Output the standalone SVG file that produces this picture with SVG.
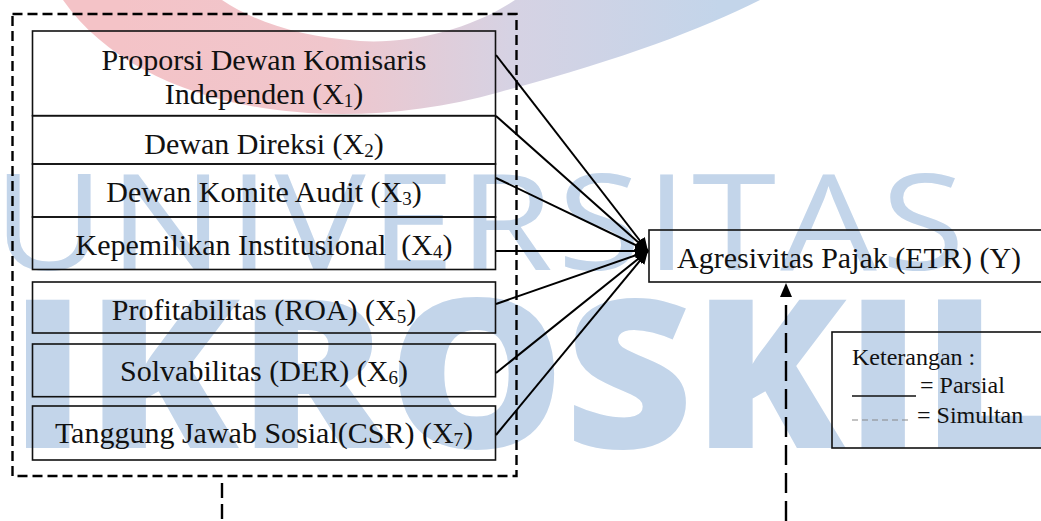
<svg xmlns="http://www.w3.org/2000/svg" width="1041" height="521" viewBox="0 0 1041 521">
<style>
.wm{fill:#c3d5ea;font-family:"Open Sans","DejaVu Sans",sans-serif}
.box{fill:none;stroke:#111;stroke-width:1.6}
.t{font-family:"Liberation Serif","Times New Roman",serif;font-size:30px;fill:#111;text-anchor:middle}
.lg{font-family:"Liberation Serif","Times New Roman",serif;font-size:24px;fill:#111}
.edge{stroke:#000;stroke-width:2;fill:none;marker-end:url(#ah)}
.dash{stroke:#000;stroke-width:2.4;fill:none}
</style>
<defs>
<linearGradient id="sw" gradientUnits="userSpaceOnUse" x1="120" y1="0" x2="720" y2="0">
<stop offset="0" stop-color="#f4c3c7"/>
<stop offset="0.35" stop-color="#f0c6cc"/>
<stop offset="0.65" stop-color="#d6d2e3"/>
<stop offset="1" stop-color="#c3d5ea"/>
</linearGradient>
<marker id="ah" markerUnits="userSpaceOnUse" markerWidth="14" markerHeight="12" refX="13" refY="6" orient="auto">
<path d="M0,0 L13,6 L0,12 Z" fill="#000"/>
</marker>
</defs>
<g id="watermark">
<path d="M63,0 C140,110 330,140 500,92 C620,60 700,30 760,0 L515,0 C470,30 410,44 360,41 C300,37 255,22 222,0 Z" fill="url(#sw)"/>
<text class="wm" transform="scale(1.15,1)" x="-6" y="270" font-size="133" textLength="845" lengthAdjust="spacing">UNIVERSITAS</text>
<text class="wm" transform="scale(1.08,1)" x="8" y="448" font-size="207" font-weight="800" textLength="965" lengthAdjust="spacing">IKROSKIL</text>
</g>
<g id="group-x">
<rect x="12.5" y="14" width="504" height="462" fill="none" stroke="#000" stroke-width="2.4" stroke-dasharray="10,5"/>
</g>
<g id="x1">
<rect class="box" x="32.5" y="31" width="463" height="84.7"/>
<text class="t" x="264" y="70">Proporsi Dewan Komisaris</text>
<text class="t" x="264" y="104">Independen (X<tspan font-size="19" dy="3">1</tspan><tspan dy="-3">)</tspan></text>
</g>
<g id="x2">
<rect class="box" x="32.5" y="115.7" width="463" height="48.3"/>
<text class="t" x="264" y="154">Dewan Direksi (X<tspan font-size="19" dy="3">2</tspan><tspan dy="-3">)</tspan></text>
</g>
<g id="x3">
<rect class="box" x="32.5" y="164" width="463" height="53"/>
<text class="t" x="264" y="202">Dewan Komite Audit (X<tspan font-size="19" dy="3">3</tspan><tspan dy="-3">)</tspan></text>
</g>
<g id="x4">
<rect class="box" x="32.5" y="217" width="463" height="52.5"/>
<text class="t" x="264" y="255" xml:space="preserve">Kepemilikan Institusional  (X<tspan font-size="19" dy="3">4</tspan><tspan dy="-3">)</tspan></text>
</g>
<g id="x5">
<rect class="box" x="32.5" y="282" width="463" height="51"/>
<text class="t" x="264" y="320">Profitabilitas (ROA) (X<tspan font-size="19" dy="3">5</tspan><tspan dy="-3">)</tspan></text>
</g>
<g id="x6">
<rect class="box" x="32.5" y="344" width="463" height="52.7"/>
<text class="t" x="264" y="381">Solvabilitas (DER) (X<tspan font-size="19" dy="3">6</tspan><tspan dy="-3">)</tspan></text>
</g>
<g id="x7">
<rect class="box" x="32.5" y="406" width="463" height="54"/>
<text class="t" x="264" y="443">Tanggung Jawab Sosial(CSR) (X<tspan font-size="19" dy="3">7</tspan><tspan dy="-3">)</tspan></text>
</g>
<g id="y">
<rect class="box" x="649" y="230" width="400" height="52"/>
<text class="t" x="677" y="268" style="text-anchor:start">Agresivitas Pajak (ETR) (Y)</text>
</g>
<g id="legend">
<rect class="box" x="832" y="332" width="220" height="116"/>
<text class="lg" x="852" y="365">Keterangan :</text>
<line x1="852" y1="396" x2="916" y2="396" stroke="#111" stroke-width="1.6"/>
<text class="lg" x="920" y="393">= Parsial</text>
<line x1="852" y1="420" x2="912" y2="420" stroke="#888" stroke-width="1.2" stroke-dasharray="6,4"/>
<text class="lg" x="917" y="423">= Simultan</text>
</g>
<g id="connectors">
<line class="edge" x1="496" y1="55" x2="648" y2="251"/>
<line class="edge" x1="496" y1="116" x2="648" y2="251"/>
<line class="edge" x1="496" y1="178" x2="648" y2="251"/>
<line class="edge" x1="496" y1="251" x2="648" y2="251"/>
<line class="edge" x1="496" y1="304" x2="648" y2="251"/>
<line class="edge" x1="496" y1="373" x2="648" y2="251"/>
<line class="edge" x1="496" y1="435" x2="648" y2="251"/>
<line class="dash" x1="222" y1="483" x2="222" y2="521" stroke-dasharray="15,6"/>
<line class="dash" x1="786" y1="521" x2="786" y2="296" stroke-dasharray="20,8"/>
<path d="M780,297 L786,283 L792,297 Z" fill="#000"/>
</g>
</svg>
